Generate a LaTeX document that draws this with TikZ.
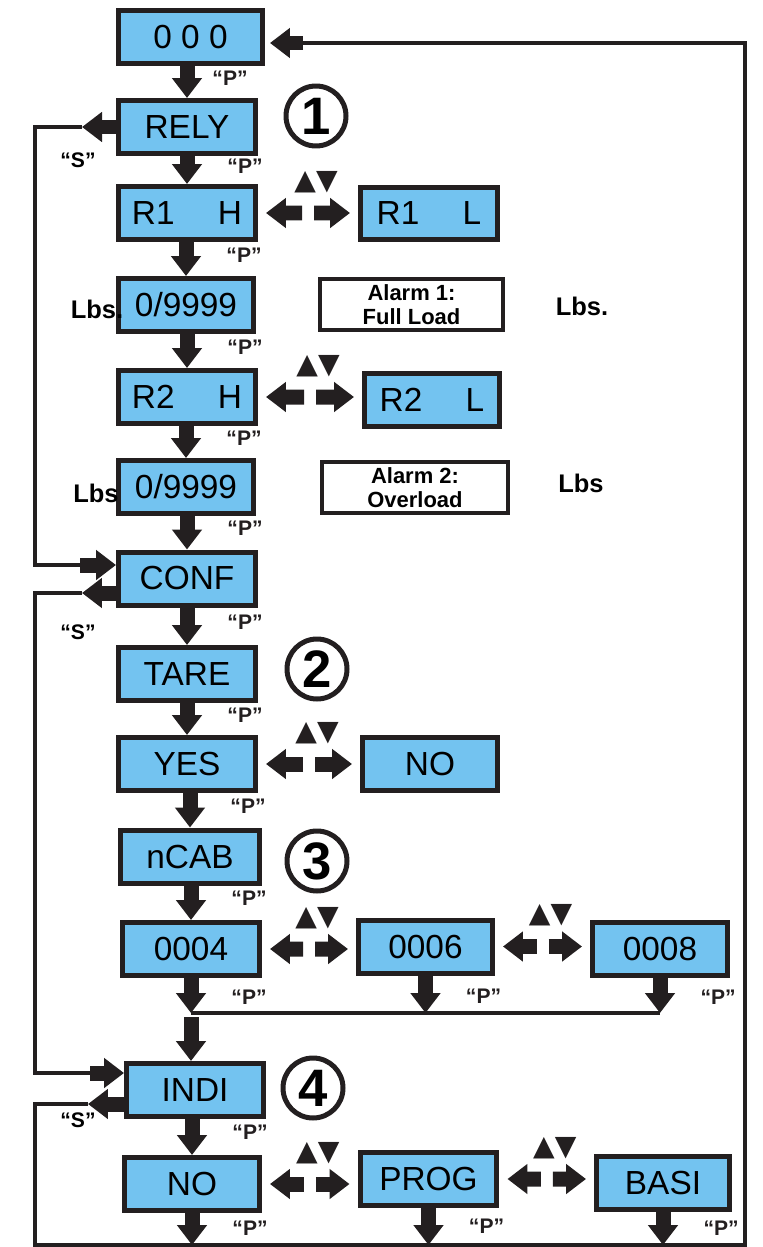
\documentclass[tikz,border=0pt]{standalone}
\usepackage{fontspec}
\setmainfont{Liberation Sans}
\newfontfamily\trifont{DejaVu Sans}
\usetikzlibrary{arrows.meta,calc,positioning}

\definecolor{lcdblue}{RGB}{115,195,240}
\definecolor{ink}{RGB}{35,31,32}

\begin{document}
\begin{tikzpicture}[x=0.02cm, y=-0.02cm]
    % Styles for boxes and lines
    \tikzstyle{box} = [rectangle, draw=ink, line width=0.1cm, fill=lcdblue, minimum width=2.74cm, minimum height=1.06cm, inner sep=0pt, font=\fontsize{19}{21}\selectfont]
    \tikzstyle{alarm} = [rectangle, draw=ink, line width=0.08cm, fill=white, align=center, minimum width=3.66cm, minimum height=1.02cm, inner sep=0pt, font=\bfseries\fontsize{12.5}{14}\selectfont]
    \tikzstyle{plabel} = [font=\bfseries\fontsize{12}{13}\selectfont, inner sep=0pt]
    \tikzstyle{lbs} = [font=\bfseries\fontsize{14.5}{16}\selectfont, inner sep=0pt]
    \tikzstyle{stepnum} = [circle, draw=ink, line width=0.1cm, minimum size=1.2cm, inner sep=0pt, font=\bfseries\fontsize{30}{30}\selectfont]
    \tikzstyle{updown} = [ink, font=\trifont\fontsize{16}{16}\selectfont, inner sep=0pt]
    \tikzstyle{keyarrow} = [ink, line width=0.3cm, -{Triangle[width=0.58cm, length=0.4cm]}]
    \tikzstyle{sidearrow} = [keyarrow, shorten >=0.16cm]
    \tikzstyle{wire} = [ink, line width=0.07cm]

    \useasboundingbox (0,0) rectangle (763,1247);

  % Nodes with explicit coordinates
    \node[box, minimum width=2.88cm] (b000) at (190.5,37) {0 0 0};
    \node[box] (rely) at (187,127) {RELY};
    \node[box] (r1h) at (187,213) {R1\hspace{1.3em}H};
    \node[box] (r1l) at (429,213.5) {R1\hspace{1.3em}L};
    \node[box, minimum width=2.7cm] (val1) at (186,305) {0/9999};
    \node[alarm] (alarm1) at (411.5,304.5) {Alarm 1:\\Full Load};
    \node[box] (r2h) at (187,397) {R2\hspace{1.3em}H};
    \node[box, minimum width=2.7cm] (r2l) at (432,400) {R2\hspace{1.3em}L};
    \node[box, minimum width=2.7cm] (val2) at (186,487) {0/9999};
    \node[alarm, minimum width=3.72cm] (alarm2) at (415,487.5) {Alarm 2:\\Overload};
    \node[box] (conf) at (187,578.5) {CONF};
    \node[box] (tare) at (187,674) {TARE};
    \node[box] (yes) at (187,764) {YES};
    \node[box, minimum width=2.7cm] (no1) at (430,763.5) {NO};
    \node[box, minimum width=2.78cm] (ncab) at (190,856.5) {nCAB};
    \node[box] (c4) at (191,949) {0004};
    \node[box, minimum width=2.68cm] (c6) at (425.5,946.5) {0006};
    \node[box, minimum width=2.7cm] (c8) at (660,948.5) {0008};
    \node[box] (indi) at (195,1090) {INDI};
    \node[box, minimum width=2.7cm] (no2) at (192,1184) {NO};
    \node[box] (prog) at (428.5,1179) {PROG};
    \node[box, minimum width=2.66cm] (basi) at (663,1183) {BASI};

  % Section numbers
    \node[stepnum] (n1) at (316,116) {1};
    \node[stepnum] (n2) at (317,669) {2};
    \node[stepnum] (n3) at (317,861) {3};
    \node[stepnum] (n4) at (313,1088) {4};

  % "P" arrows down the column
    \draw[keyarrow] (rely.north |- b000.south) -- (rely.north) node[plabel, pos=0.38, right=0.36cm] {“P”};
    \foreach \a/\b in {rely/r1h, r1h/val1, val1/r2h, r2h/val2, val2/conf, conf/tare, tare/yes, yes/ncab, ncab/c4, indi/no2}
        \draw[keyarrow] (\b.north |- \a.south) -- (\b.north) node[plabel, pos=0.38, right=0.66cm] {“P”};

  % Up/down choice arrows
    \foreach \a/\b in {r1h/r1l, r2h/r2l, yes/no1, c4/c6, c6/c8, no2/prog, prog/basi} {
        \coordinate (m-\a) at ($(\a.east)!0.5!(\b.west |- \a.east)$);
        \draw[sidearrow] ($(m-\a)+(-6,0)$) -- (\a.east);
        \draw[sidearrow] ($(m-\a)+(6,0)$) -- (\b.west |- \a.east);
        \node[updown] (t-\a) at ($(m-\a)+(8,-31)$) {▲▼};
    }

  % Cable choices join before INDI
    \coordinate (j4) at (c4.south |- 0,1013);
    \coordinate (j8) at (c8.south |- 0,1013);
    \foreach \a in {c4, c6, c8}
        \draw[keyarrow] (\a.south) -- (\a.south |- j4) node[plabel, pos=0.55, right=0.66cm] {“P”};
    \draw[wire] (j4) -- (j8);
    \draw[keyarrow] ($(j4)+(0,4)$) -- (j4 |- indi.north);

  % Indication choices back to the top
    \coordinate (bl) at (35,1245);
    \coordinate (br) at (745,1245);
    \foreach \a in {no2, prog, basi}
        \draw[keyarrow] (\a.south) -- (\a.south |- bl) node[plabel, pos=0.48, right=0.66cm] {“P”};

  % "S" loops on the left
    \coordinate (relyS) at ($(rely.west)+(-34,0)$);
    \coordinate (confIn) at (80,565);
    \coordinate (confS) at (82,593);
    \coordinate (indiIn) at (90,1073);
    \coordinate (indiS) at (88,1104);
    \coordinate (topIn) at (303,43);

    \draw[keyarrow] (rely.west) -- (relyS);
    \draw[wire] (relyS) -| (35,565) -- (confIn);
    \draw[keyarrow] (confIn) -- (conf.west |- confIn);
    \draw[keyarrow] (conf.west |- confS) -- (confS);
    \draw[wire] (confS) -| (35,1073) -- (indiIn);
    \draw[keyarrow] (indiIn) -- (indi.west |- indiIn);
    \draw[keyarrow] (indi.west |- indiS) -- (indiS);
    \draw[wire] (indiS) -| (bl) -- (br) |- (topIn);
    \draw[keyarrow] (topIn) -- ($(b000.east |- topIn)+(5,0)$);

    \node[plabel] (s1) at (78,160) {“S”};
    \node[plabel] (s2) at (78,632) {“S”};
    \node[plabel] (s3) at (78,1120) {“S”};

  % Units
    \node[lbs] (lbs1) at (97,309) {Lbs.};
    \node[lbs] (lbs2) at (96,493) {Lbs};
    \node[lbs] (lbs3) at (582,306) {Lbs.};
    \node[lbs] (lbs4) at (581,483) {Lbs};
\end{tikzpicture}
\end{document}
